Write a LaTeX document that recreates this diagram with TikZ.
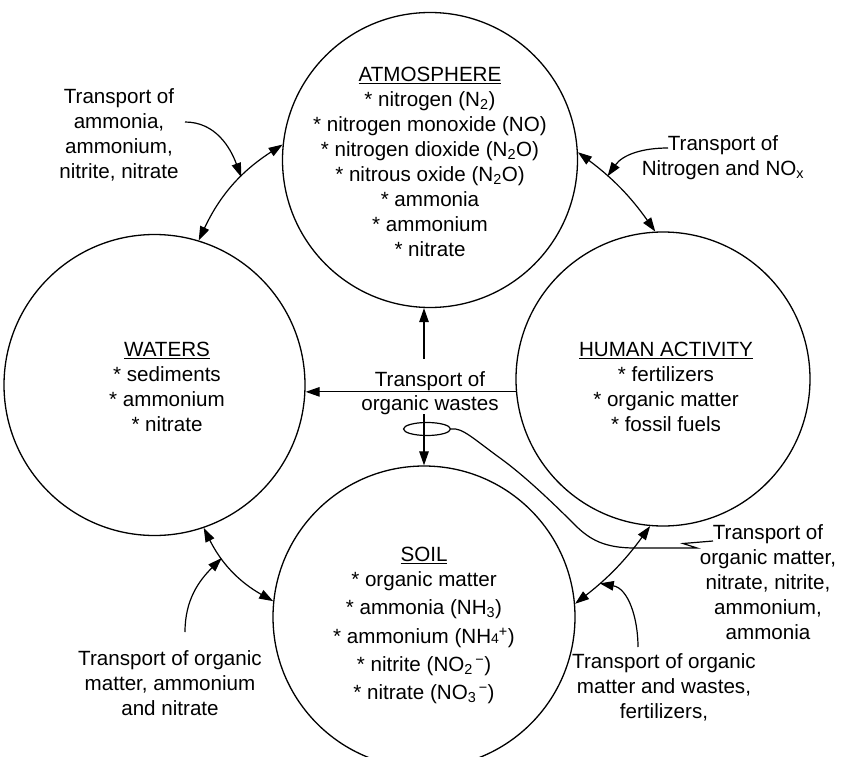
\documentclass[tikz,border=0pt]{standalone}
\usepackage{fontspec}
\setmainfont{Liberation Sans}
\usetikzlibrary{arrows.meta,shapes.geometric}
\begin{document}
\begin{tikzpicture}[x=1pt,y=-1pt,
  lbl/.style={font=\fontsize{20.6}{25}\selectfont, align=center, inner sep=0pt},
  sphere/.style={circle, draw, line width=1.3pt, inner sep=0pt},
  tip/.style={-{Triangle[length=14pt,width=9.5pt]}, line width=1.2pt},
  both/.style={{Triangle[length=14pt,width=9.5pt]}-{Triangle[length=14pt,width=9.5pt]}, line width=1.2pt},
  wire/.style={line width=1.2pt}]
\useasboundingbox (0,0) rectangle (841,757);
\clip (0,0) rectangle (841,757);

% the four reservoirs
\node[sphere, minimum size=295pt] (atmo)   at (430,160)   {};
\node[sphere, minimum size=301pt] (waters) at (154.5,385) {};
\node[sphere, minimum size=294pt] (human)  at (663,379)   {};
\node[sphere, minimum size=302pt] (soil)   at (424,617)   {};

% reservoir contents
\node[lbl, anchor=north] (atmotext) at (430,67) {\underline{ATMOSPHERE}\\
  * nitrogen (N\textsubscript{2})\\
  * nitrogen monoxide (NO)\\
  * nitrogen dioxide (N\textsubscript{2}O)\\
  * nitrous oxide (N\textsubscript{2}O)\\
  * ammonia\\
  * ammonium\\
  * nitrate};
\node[lbl, anchor=north] (waterstext) at (167,342) {\underline{WATERS}\\
  * sediments\\
  * ammonium\\
  * nitrate};
\node[lbl, anchor=north] (humantext) at (666,342) {\underline{HUMAN ACTIVITY}\\
  * fertilizers\\
  * organic matter\\
  * fossil fuels};
\node[lbl, anchor=north] (soiltext) at (424,547) {\underline{SOIL}\\
  * organic matter\\[3pt]
  * ammonia (NH\textsubscript{3})\\[4pt]
  * ammonium (NH{\fontsize{14}{14}\selectfont 4}\textsuperscript{+})\\[3pt]
  * nitrite (NO\textsubscript{2}\textsuperscript{\,−})\\[3pt]
  * nitrate (NO\textsubscript{3}\textsuperscript{\,−})};

% transport labels
\node[lbl, anchor=north] (lab1) at (119,88) {Transport of\\ammonia,\\ammonium,\\nitrite, nitrate};
\node[lbl, anchor=north] (lab2) at (723,135) {Transport of\\Nitrogen and NO\textsubscript{x}};
\node[lbl, anchor=base] (tow1) at (430,386) {Transport of};
\node[lbl, anchor=base] (tow2) at (430,410) {organic wastes};
\node[lbl, anchor=north] (lab4) at (768,524) {Transport of\\organic matter,\\nitrate, nitrite,\\ammonium,\\ammonia};
\node[lbl, anchor=north] (lab5) at (170,650) {Transport of organic\\matter, ammonium\\and nitrate};
\node[lbl, anchor=north] (lab6) at (664,653) {Transport of organic\\matter and wastes,\\fertilizers,};

% exchanges between neighbouring reservoirs
\draw[both] (waters.73.7) to[bend left=16] coordinate[pos=0.6] (aw) (atmo.174.2);
\draw[both] (atmo.3) to[bend left=9] coordinate[pos=0.33] (ah) (human.93.1);
\draw[both] (waters.-71.1) to[bend right=17] coordinate[pos=0.33] (ws) (soil.174.3);
\draw[both] (soil.5.4) to[bend right=8] coordinate[pos=0.28] (sh) (human.-95);

% organic wastes from human activity
\draw[tip] (human.185.5) -- (human.185.5 -| waters.east);
\path (tow1.north -| soil.north) ++(0,-12) coordinate (upstart);
\draw[tip] (upstart) -- (soil.north |- atmo.south);
\draw[tip] (tow2.south -| soil.north) -- (soil.north);
\node[ellipse, draw, line width=1.2pt, minimum width=47pt, minimum height=13pt, inner sep=0pt] (loop) at (427,429) {};
\coordinate (brk) at (713,541);
\draw[wire] (loop.east) .. controls (462,427) and (475,440) .. (500,458)
  .. controls (525,476) and (555,505) .. (575,525)
  .. controls (590,540) and (605,548) .. (635,548)
  -- (697,548) -- (683,543.5) -- (brk);

% label leaders
\coordinate (c1) at (185,122);
\coordinate (c2) at (668,148);
\coordinate (c3) at (185,632);
\coordinate (c4) at (638,647);
\draw[tip] (c1) to[out=0,in=110] (aw);
\draw[tip] (c2) to[out=180,in=55] (ah);
\draw[tip] (c3) to[out=90,in=225] (ws);
\draw[tip] (c4) to[out=90,in=350] (sh);
\end{tikzpicture}
\end{document}
